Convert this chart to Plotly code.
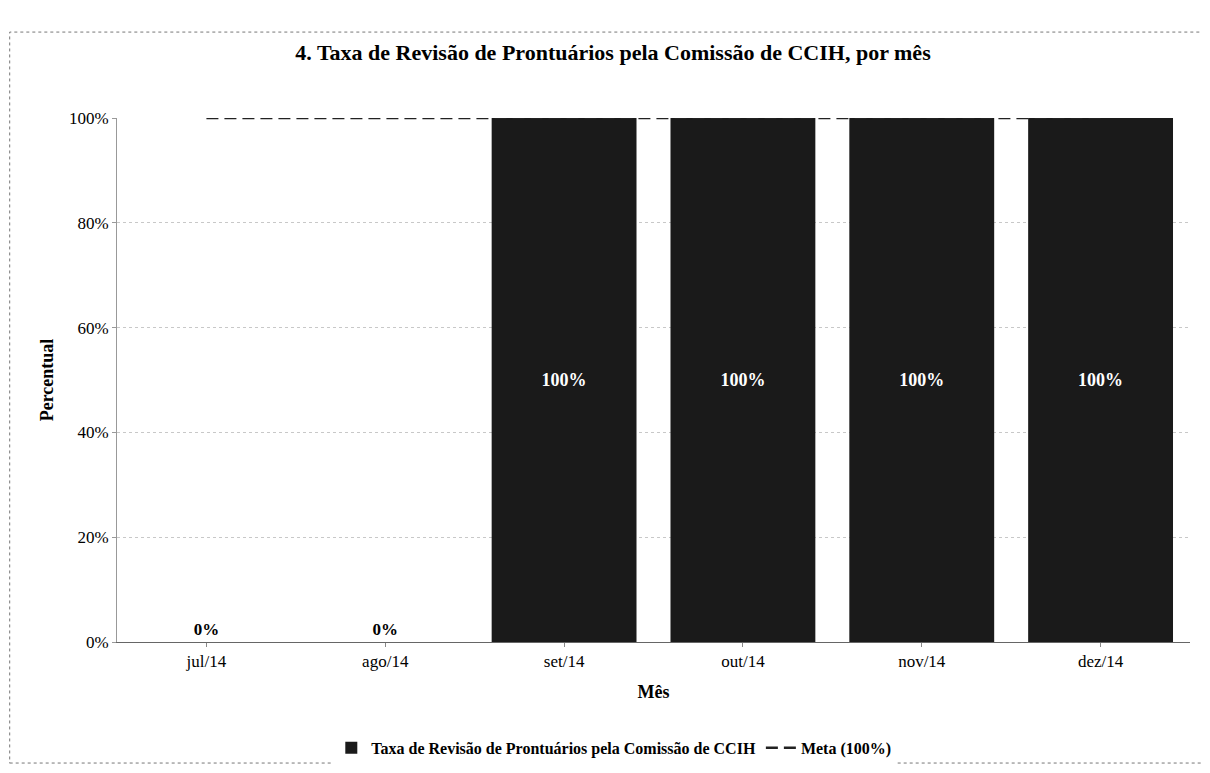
import plotly.graph_objects as go

meses = ["jul/14", "ago/14", "set/14", "out/14", "nov/14", "dez/14"]
taxa = [0.0, 0.0, 1.0, 1.0, 1.0, 1.0]
meta = [1.0, 1.0, 1.0, 1.0, 1.0, 1.0]

serif = "Liberation Serif, Times New Roman, serif"

fig = go.Figure()

fig.add_trace(go.Scatter(
    x=meses, y=meta, mode="lines", name="<b>Meta (100%)</b>",
    line=dict(color="#222222", width=2.5, dash="12px,6px"),
    legendrank=2, hoverinfo="skip",
))

fig.add_trace(go.Bar(
    x=meses, y=taxa, name="<b>Taxa de Revisão de Prontuários pela Comissão de CCIH</b>",
    marker=dict(color="#1a1a1a", line=dict(width=0)),
    texttemplate="<b>%{y:.0%}</b>",
    textposition=["outside" if v < 0.5 else "inside" for v in taxa],
    insidetextanchor="middle",
    insidetextfont=dict(color="white", size=18, family=serif),
    outsidetextfont=dict(color="black", size=17, family=serif),
    cliponaxis=False, legendrank=1,
))

fig.update_layout(
    width=1210, height=773,
    paper_bgcolor="white", plot_bgcolor="white",
    margin=dict(l=109, r=28, t=110, b=139),
    bargap=0.19,
    font=dict(family=serif, color="black", size=17),
    title=dict(text="<b>4. Taxa de Revisão de Prontuários pela Comissão de CCIH, por mês</b>",
               x=0.5, xanchor="center", y=0.943, yanchor="middle",
               font=dict(size=22, family=serif)),
    showlegend=True,
    legend=dict(orientation="h", x=0.463, xanchor="center", y=-0.202, yanchor="middle",
                font=dict(size=16, family=serif), traceorder="normal"),
    shapes=[dict(type="rect", xref="paper", yref="paper",
                 x0=-0.1, x1=1.014, y0=-0.231, y1=1.164,
                 line=dict(color="#777777", width=1, dash="dot"))],
)

fig.update_yaxes(
    range=[0, 1.0], tickvals=[0, 0.2, 0.4, 0.6, 0.8, 1.0], tickformat=".0%",
    showgrid=True, gridcolor="#c8c8c8", griddash="dot", gridwidth=1,
    showline=True, linecolor="#999999", linewidth=1, ticks="outside", ticklen=4,
    tickcolor="#999999", tickfont=dict(size=17, family=serif),
    title=dict(text="<b>Percentual</b>", font=dict(size=18, family=serif), standoff=10),
    zeroline=False,
)
fig.update_xaxes(
    showline=True, linecolor="#666666", linewidth=1, ticks="outside", ticklen=4,
    tickcolor="#888888", tickfont=dict(size=17, family=serif),
    title=dict(text="<b>Mês</b>", font=dict(size=18, family=serif), standoff=14),
)

fig.write_html("out.html")
